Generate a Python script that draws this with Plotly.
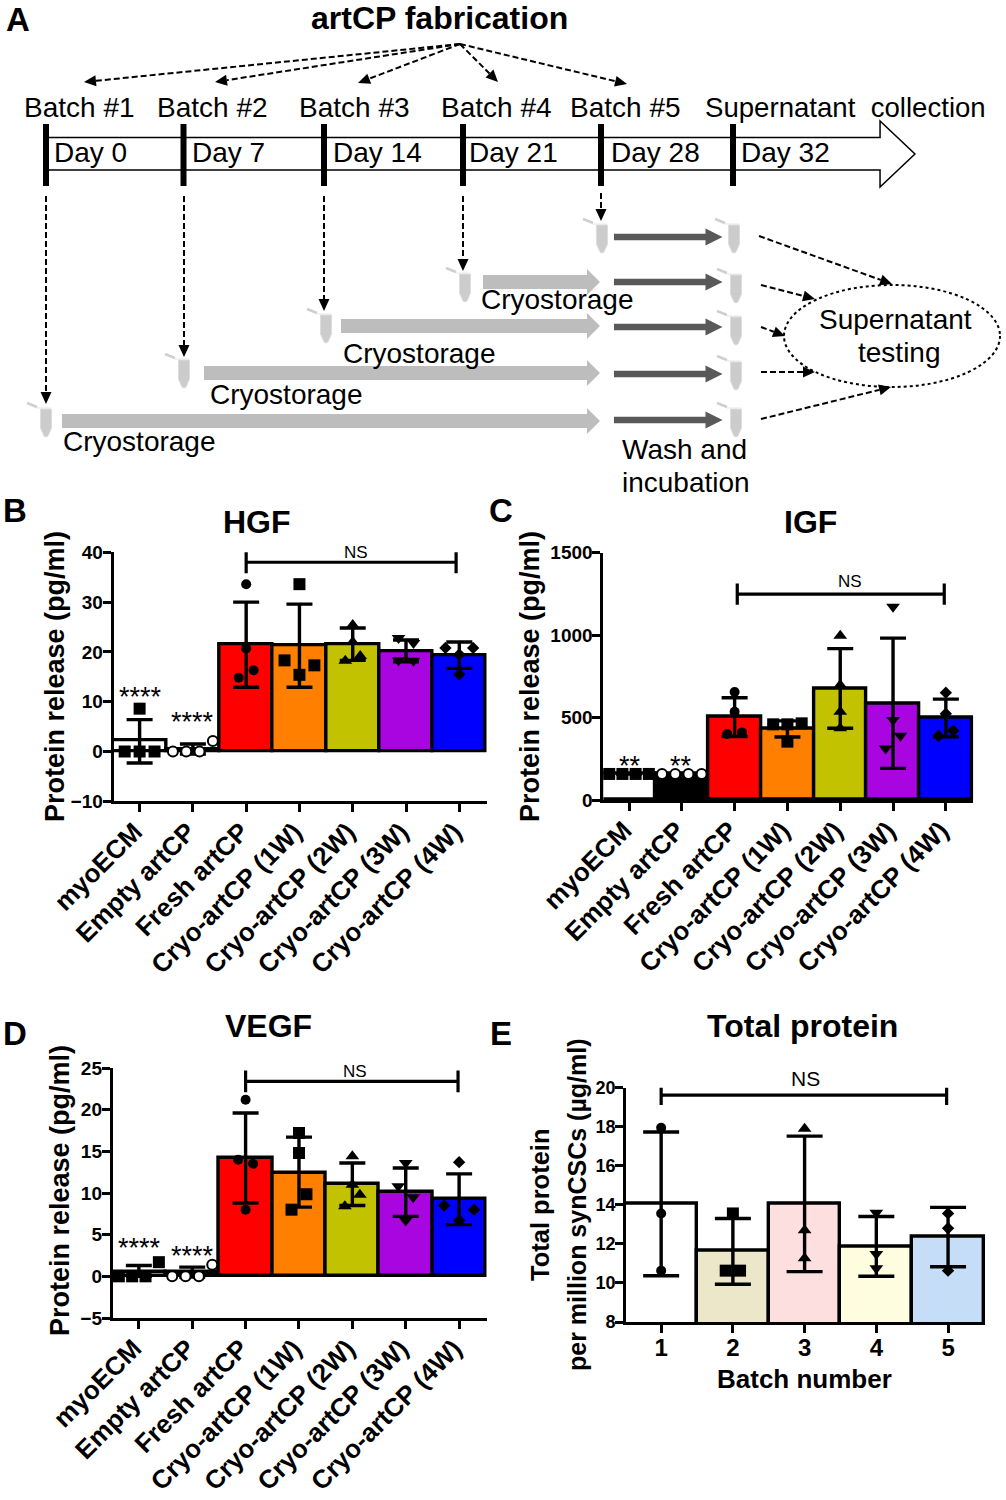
import plotly.graph_objects as go

W, H = 1006, 1500
FONT = "Liberation Sans"
BLACK = "#000000"

CATEGORIES = ["myoECM", "Empty artCP", "Fresh artCP", "Cryo-artCP (1W)", "Cryo-artCP (2W)", "Cryo-artCP (3W)", "Cryo-artCP (4W)"]
BATCHES = [1, 2, 3, 4, 5]

BAR_COLORS = ["#ffffff", "#000000", "#ff0000", "#ff8000", "#c2c200", "#a805e0", "#0000ff"]
SYMBOLS = ["square", "circle", "circle", "square", "triangle-up", "triangle-down", "diamond"]
BATCH_COLORS = ["#ffffff", "#ece7c9", "#fddfe0", "#fefde0", "#c6ddf7"]
BATCH_SYMBOLS = ["circle", "square", "triangle-up", "triangle-down", "diamond"]

HGF_MEAN = [2.2, 0.5, 21.5, 21.3, 21.6, 20.2, 19.3]
HGF_HI = [6.4, 1.5, 30.0, 29.6, 24.8, 22.4, 22.0]
HGF_LO = [-2.3, -0.5, 12.9, 12.9, 18.3, 18.0, 16.7]
HGF_POINTS = [[0, 0, 0, 8.6], [0, 0, 0, 2.1], [33.6, 20.7, 16.3, 14.8], [33.6, 18.3, 17.3, 15.4],
              [25.4, 22.0, 19.2, 18.2], [22.8, 21.8, 18.3, 18.2], [20.8, 20.8, 19.5, 15.5]]
HGF_JITTER = [[-0.28, 0, 0.28, 0], [-0.375, -0.125, 0.125, 0.375], [0, 0, 0.14, -0.14], [0, -0.28, 0.28, 0],
              [0, 0, 0.14, -0.14], [-0.14, 0.14, -0.14, 0.14], [-0.26, 0.26, 0, 0]]

IGF_MEAN = [158, 158, 505, 435, 677, 586, 497]
IGF_HI = [158, 158, 620, 480, 918, 982, 612]
IGF_LO = [158, 158, 385, 382, 435, 192, 384]
IGF_POINTS = [[158, 158, 158, 158], [158, 158, 158, 158], [655, 535, 410, 400], [465, 459, 459, 354],
              [997, 697, 535, 435], [1172, 485, 390, 313], [651, 523, 420, 390]]
IGF_JITTER = [[-0.375, -0.125, 0.125, 0.375], [-0.375, -0.125, 0.125, 0.375], [0, 0, 0.14, -0.14], [0.27, -0.27, 0, 0],
              [0, 0, 0, 0], [0, 0, 0.14, -0.14], [0, 0, 0.14, -0.14]]

VEGF_MEAN = [0.55, 0.5, 14.2, 12.45, 11.1, 10.1, 9.3]
VEGF_HI = [1.3, 1.1, 19.6, 16.7, 13.6, 13.0, 12.3]
VEGF_LO = [0.0, -0.1, 8.8, 8.3, 8.5, 7.2, 6.2]
VEGF_POINTS = [[0, 0, 0, 1.7], [0, 0, 0, 1.4], [21.2, 14.0, 13.5, 8.0], [17.2, 14.8, 9.85, 8.0],
               [14.4, 11.0, 9.8, 8.4], [13.6, 10.8, 9.5, 6.7], [13.7, 8.5, 8.0, 6.7]]
VEGF_JITTER = [[-0.375, -0.125, 0.125, 0.375], [-0.375, -0.125, 0.125, 0.375], [0, -0.14, 0.14, 0], [0, 0, 0.14, -0.14],
               [0, 0, 0.14, -0.14], [0, -0.14, 0.14, 0], [0, -0.28, 0.28, 0]]

TOTAL_MEAN = [14.07, 11.65, 14.07, 11.86, 12.37]
TOTAL_HI = [17.73, 13.3, 17.52, 13.4, 13.87]
TOTAL_LO = [10.37, 9.93, 10.58, 10.34, 10.83]
TOTAL_POINTS = [[17.95, 13.56, 10.63], [13.56, 10.63, 10.63], [17.9, 12.7, 11.26], [13.6, 11.48, 10.75], [13.56, 12.8, 10.63]]
TOTAL_JITTER = [[0, 0, 0], [0, -0.1, 0.1], [0, 0, 0], [0, 0, 0], [0, 0, 0]]

SYMBOL_SIZES = {"square": 12, "circle": 10, "triangle-up": 12, "triangle-down": 12, "diamond": 9.5}

fig = go.Figure()
shapes, annots = [], []


def px(x):
    return x / W


def py(y):
    return 1 - y / H


def text(x, y, s, size=28, bold=False, angle=0, anchor="center", family=FONT):
    if bold:
        s = "<b>" + s + "</b>"
    annots.append(dict(x=px(x), y=py(y), xref="paper", yref="paper", text=s, showarrow=False,
                       font=dict(family=family, size=size, color=BLACK), textangle=angle,
                       xanchor=anchor, yanchor="middle"))


def panel(idx, dom_x, dom_y, xr, yr, dtick, cats, colors, symbols, mean, hi, lo, points, jitter,
          capw, bracket, tickfont_y, tickfont_x, tickangle, xvals, xshift, xstand):
    ax = "" if idx == 1 else str(idx)
    xa, ya = "x" + ax, "y" + ax
    fig.add_trace(go.Bar(
        x=xvals, y=mean, width=1.0, xaxis=xa, yaxis=ya, showlegend=False,
        marker=dict(color=colors, line=dict(color=BLACK, width=3.4)),
        error_y=dict(type="data", symmetric=False,
                     array=[h - m for h, m in zip(hi, mean)],
                     arrayminus=[m - l for m, l in zip(mean, lo)],
                     thickness=3.4, width=capw, color=BLACK)))
    for i, pts in enumerate(points):
        sym = symbols[i]
        open_c = sym == "circle" and colors[i] == "#000000"
        fig.add_trace(go.Scatter(
            x=[xvals[i] + j for j in jitter[i]], y=pts, mode="markers", xaxis=xa, yaxis=ya,
            showlegend=False, cliponaxis=False,
            marker=dict(symbol=sym, size=SYMBOL_SIZES[sym],
                        color="#ffffff" if open_c else BLACK,
                        line=dict(color=BLACK, width=2 if open_c else 0))))
    b0, b1, lvl, cap = bracket
    fig.add_trace(go.Scatter(
        x=[b0, b0, None, b0, b1, None, b1, b1],
        y=[lvl - cap, lvl + cap, None, lvl, lvl, None, lvl - cap, lvl + cap],
        mode="lines", line=dict(color=BLACK, width=3.2), xaxis=xa, yaxis=ya, showlegend=False, cliponaxis=False))
    fig.layout["xaxis" + ax] = dict(
        domain=[px(dom_x[0]), px(dom_x[1])], range=xr, anchor=ya, tickmode="array", tickvals=xvals, ticktext=cats,
        tickangle=tickangle, showgrid=False, zeroline=False, showline=True, linecolor=BLACK, linewidth=2.8,
        ticks="outside", ticklen=8, tickwidth=2.8, tickcolor=BLACK, automargin=False,
        ticklabelshift=xshift, ticklabelstandoff=xstand,
        tickfont=dict(family=FONT, size=tickfont_x, color=BLACK))
    fig.layout["yaxis" + ax] = dict(
        domain=[py(dom_y[1]), py(dom_y[0])], range=yr, anchor=xa, dtick=dtick, tick0=yr[0], showgrid=False,
        zeroline=False, showline=True, linecolor=BLACK, linewidth=2.8, ticks="outside", ticklen=8, tickwidth=2.8,
        tickcolor=BLACK, automargin=False, ticklabelstandoff=-4, tickprefix="<b>", ticksuffix="</b>",
        tickfont=dict(family=FONT, size=tickfont_y, color=BLACK))


XV = list(range(7))
BOLD_CATS = ["<b>" + c + "</b>" for c in CATEGORIES]
BOLD_BATCHES = ["<b>%d</b>" % b for b in BATCHES]
panel(1, (113.5, 487), (552.3, 801.3), [-0.49, 6.52], [-10, 40], 10, BOLD_CATS, BAR_COLORS, SYMBOLS,
      HGF_MEAN, HGF_HI, HGF_LO, HGF_POINTS, HGF_JITTER, 13, (2, 5.94, 38, 2.2), 19, 26, -45, XV, -5, -6)
panel(2, (603.3, 973.3), (552.7, 800), [-0.487, 6.52], [0, 1500], 500, BOLD_CATS, BAR_COLORS, SYMBOLS,
      IGF_MEAN, IGF_HI, IGF_LO, IGF_POINTS, IGF_JITTER, 13, (2.05, 5.97, 1249, 64), 19, 26, -45, XV, -5, -6)
panel(3, (112.7, 486.7), (1068, 1318), [-0.49, 6.517], [-5, 25], 5, BOLD_CATS, BAR_COLORS, SYMBOLS,
      VEGF_MEAN, VEGF_HI, VEGF_LO, VEGF_POINTS, VEGF_JITTER, 13, (2, 5.98, 23.4, 1.3), 19, 26, -45, XV, -5, -6)
panel(4, (626, 985), (1087.7, 1322), [0.51, 5.515], [8, 20], 2, BOLD_BATCHES, BATCH_COLORS, BATCH_SYMBOLS,
      TOTAL_MEAN, TOTAL_HI, TOTAL_LO, TOTAL_POINTS, TOTAL_JITTER, 18, (1, 4.98, 19.62, 0.5), 18, 24, 0, BATCHES, 0, -6)

# Panel titles and texts
text(257, 522, "HGF", 32, True)
text(810, 522, "IGF", 32, True)
text(268, 1026, "VEGF", 32, True)
text(802, 1026, "Total protein", 32, True)
text(55, 677, "Protein release (pg/ml)", 27, True, -90)
text(530, 677, "Protein release (pg/ml)", 27, True, -90)
text(60, 1191, "Protein release (pg/ml)", 27, True, -90)
text(540, 1205, "Total protein", 25.5, True, -90)
text(577, 1205, "per million synCSCs (µg/ml)", 25, True, -90)
text(804, 1379, "Batch number", 26, True)
text(356, 552, "NS", 17)
text(850, 581, "NS", 17)
text(355, 1071, "NS", 17)
text(805, 1078, "NS", 21)
text(140, 697, "****", 27)
text(192, 722, "****", 27)
text(630, 766, "**", 27)
text(681, 766, "**", 27)
text(139, 1248, "****", 27)
text(192, 1256, "****", 27)
for lx, ly, s in [(18, 20, "A"), (15, 510, "B"), (501, 510, "C"), (15, 1033, "D"), (501, 1033, "E")]:
    text(lx, ly, s, 33, True)

# Panel A schematic
text(439, 18, "artCP fabrication", 32, True)
for cx, s in [(79, "Batch #1"), (212, "Batch #2"), (354, "Batch #3"), (496, "Batch #4"), (625, "Batch #5")]:
    text(cx, 108, s, 28)
text(845, 108, "Supernatant  collection", 27.6)
for cx, s in [(90, "Day 0"), (228, "Day 7"), (377, "Day 14"), (513, "Day 21"), (655, "Day 28"), (785, "Day 32")]:
    text(cx, 153, s, 28)
for cx, cy, s in [(139, 442, "Cryostorage"), (286, 395, "Cryostorage"), (419, 353, "Cryostorage"), (557, 300, "Cryostorage"),
                  (684, 449, "Wash and"), (686, 482, "incubation"), (895, 319, "Supernatant"), (899, 352, "testing")]:
    text(cx, cy, s, 28)


def path(points, fill, line=None, lw=0, close=True):
    d = "M " + " L ".join("%.4f %.4f" % (px(a), py(b)) for a, b in points) + (" Z" if close else "")
    shapes.append(dict(type="path", path=d, xref="paper", yref="paper", fillcolor=fill, layer="above",
                       line=dict(color=line or fill, width=lw)))


def line(x0, y0, x1, y1, width=2, dash="solid", color=BLACK):
    shapes.append(dict(type="line", x0=px(x0), y0=py(y0), x1=px(x1), y1=py(y1), xref="paper", yref="paper",
                       layer="above", line=dict(color=color, width=width, dash=dash)))


def dashed_arrow(x0, y0, x1, y1, head=12, half=5.5):
    dx, dy = x1 - x0, y1 - y0
    n = (dx * dx + dy * dy) ** 0.5
    ux, uy = dx / n, dy / n
    bx, by = x1 - ux * head, y1 - uy * head
    line(x0, y0, bx, by, 2, "6px,3px")
    path([(x1, y1), (bx - uy * half, by + ux * half), (bx + uy * half, by - ux * half)], BLACK)


def block_arrow(x0, x1, y, shaft, head_h, head_l, color):
    hx = x1 - head_l
    path([(x0, y - shaft / 2), (hx, y - shaft / 2), (hx, y - head_h / 2), (x1, y), (hx, y + head_h / 2),
          (hx, y + shaft / 2), (x0, y + shaft / 2)], color)


def tube(x, y0):
    path([(x - 5.5, y0), (x + 5.5, y0), (x + 5.5, y0 + 19), (x + 2, y0 + 27), (x, y0 + 28), (x - 2, y0 + 27), (x - 5.5, y0 + 19)], "#cccccc", "#dddddd", 1)
    line(x - 19, y0 - 6, x - 9, y0 - 2, 2.5, color="#cfcfcf")
    line(x - 9, y0 - 1, x + 5, y0 - 1, 1, color="#e6e6e6")


# timeline arrow
path([(46, 137.5), (880, 137.5), (880, 121), (915, 154), (880, 187), (880, 170), (46, 170)], "#ffffff", BLACK, 1.5)
for bx in [46, 183.5, 324, 463, 601, 733]:
    line(bx, 124, bx, 186, 6)
for tx, ty in [(84, 82), (215, 82), (358, 83), (498, 82), (627, 84)]:
    dashed_arrow(460, 44, tx, ty)
for vx, y0, y1 in [(46, 196, 404), (184, 196, 357), (324, 196, 311), (463, 196, 271), (601, 193, 221)]:
    dashed_arrow(vx, y0, vx, y1)
for tx, ty in [(46, 409), (184, 360), (326, 315), (465, 274), (602, 225),
               (734, 225), (736, 275), (736, 317), (736, 362), (736, 409)]:
    tube(tx, ty)
for x0, y in [(62, 421), (204, 373), (341, 326), (483, 282)]:
    block_arrow(x0, 600, y, 14, 26, 13, "#bdbdbd")
for y in [237, 282, 327, 374, 420]:
    block_arrow(614, 722.5, y, 6.5, 17, 17, "#595959")
shapes.append(dict(type="circle", x0=px(784), x1=px(1000), y0=py(387), y1=py(285), xref="paper", yref="paper",
                   layer="above", line=dict(color=BLACK, width=2, dash="dot"), fillcolor="rgba(0,0,0,0)"))
for a, b, c, d in [(759, 236, 892, 284), (761, 285, 815, 299), (761, 327, 785, 336), (761, 372, 815, 372), (761, 419, 891, 387)]:
    dashed_arrow(a, b, c, d)

fig.update_layout(
    width=W, height=H, margin=dict(l=0, r=0, t=0, b=0), autosize=False, bargap=0, barmode="overlay",
    paper_bgcolor="#ffffff", plot_bgcolor="#ffffff", shapes=shapes, annotations=annots, showlegend=False,
    font=dict(family=FONT, color=BLACK))

fig.write_html("out.html", config={"displayModeBar": False},
               post_script="document.body.style.margin='0';document.body.style.overflow='hidden';")
